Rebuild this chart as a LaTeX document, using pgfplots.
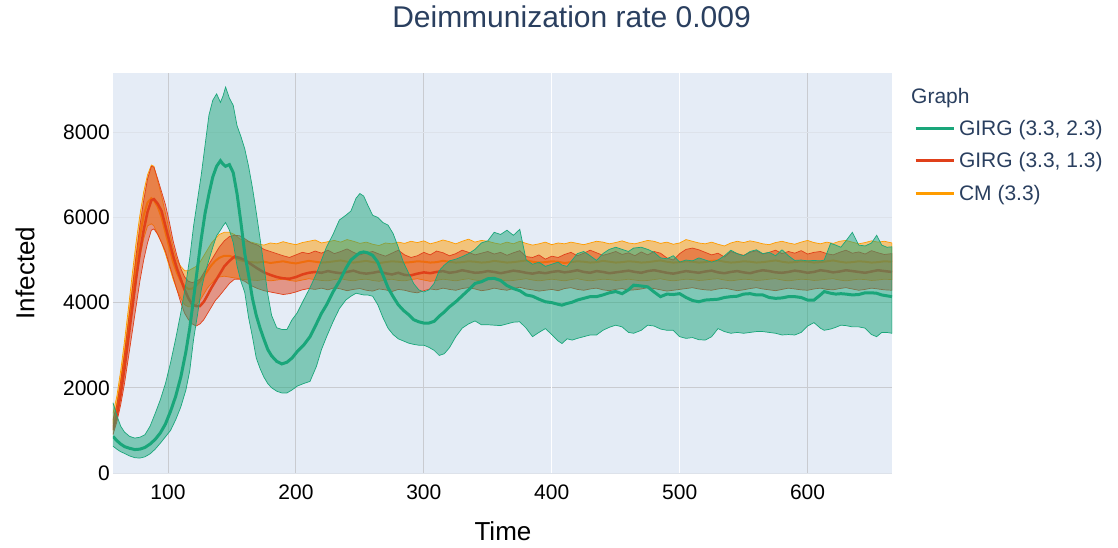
\documentclass[border=0pt]{standalone}
\usepackage{fontspec}
\setmainfont{Liberation Sans}
\usepackage{pgfplots}
\usepackage{pgfplotstable}
\pgfplotsset{compat=1.18}

\definecolor{bgc}{HTML}{E5ECF6}
\definecolor{girgA}{HTML}{1AA67A}
\definecolor{girgB}{HTML}{E0401A}
\definecolor{cmc}{HTML}{FF9C00}
\definecolor{ttl}{HTML}{2A3F5F}
\definecolor{gridg}{HTML}{C9CBD0}
\definecolor{gridl}{HTML}{DDE2EA}

% each band: upper edge left to right, then lower edge right to left

% GIRG (3.3, 2.3)
\pgfplotstableread{
t y
57 1650
60 1350
63 1100
66 960
70 860
74 820
78 840
82 900
86 1100
90 1400
94 1720
98 2100
102 2590
106 3150
110 3760
114 4450
117 5050
120 5800
123 6400
126 7000
129 7700
132 8400
135 8750
138 8900
141 8700
143 8850
145 9060
148 8800
151 8630
154 8150
157 7900
160 7610
163 7200
166 6700
169 6120
172 5500
175 4860
178 4200
181 3700
185 3410
189 3370
193 3370
197 3600
201 3760
206 4060
211 4350
216 4680
220 5000
224 5310
229 5600
234 5940
239 6050
243 6150
247 6450
250 6560
253 6500
256 6300
260 6050
264 6000
268 5880
272 5820
276 5620
280 5300
284 4950
288 4700
292 4450
296 4300
300 4250
304 4300
308 4450
312 4750
316 4880
320 4980
325 5020
330 5080
335 5150
340 5250
345 5400
350 5450
355 5650
360 5600
365 5700
370 5580
375 5720
380 5000
385 4900
390 4950
395 4850
400 4900
405 4950
408 4880
412 4850
416 5000
420 5150
425 5200
430 5100
435 4990
440 5150
445 5250
450 5300
455 5250
460 5200
464 5280
470 5300
475 5250
480 5180
485 5050
490 5030
495 5100
500 4950
505 5000
510 4980
515 5050
520 5000
525 4950
530 5000
535 5100
540 5230
545 5150
550 5100
555 5200
560 5240
565 5150
570 5180
575 5100
580 5240
585 5100
590 4990
595 5000
600 4980
605 4990
610 4980
613 5000
618 5390
622 5350
626 5300
630 5450
635 5650
640 5350
645 5330
650 5400
654 5580
658 5350
662 5300
666 5310
666 3280
662 3300
658 3300
654 3200
650 3250
645 3400
640 3430
635 3430
630 3460
626 3470
622 3420
618 3380
613 3350
610 3400
605 3530
600 3450
595 3300
590 3240
585 3250
580 3240
575 3280
570 3300
565 3320
560 3320
555 3300
550 3280
545 3300
540 3280
535 3320
530 3390
525 3200
520 3120
515 3130
510 3180
505 3160
500 3200
495 3350
490 3350
485 3380
480 3450
475 3470
470 3350
464 3280
460 3300
455 3430
450 3470
445 3420
440 3350
435 3240
430 3240
425 3200
420 3160
416 3120
412 3150
408 3040
405 3100
400 3250
395 3390
390 3300
385 3200
380 3400
375 3550
370 3540
365 3500
360 3460
355 3470
350 3480
345 3480
340 3570
335 3500
330 3400
325 3200
320 2940
316 2800
312 2760
308 2880
304 2950
300 3000
296 3000
292 3020
288 3050
284 3100
280 3150
276 3250
272 3400
268 3650
264 3950
260 4150
256 4180
253 4180
250 4200
247 4220
243 4150
239 4060
234 3860
229 3550
224 3200
220 2900
216 2500
211 2150
206 2100
201 2040
197 1950
193 1880
189 1880
185 1920
181 2000
178 2100
175 2250
172 2450
169 2700
166 3200
163 3650
160 4240
157 4500
154 4860
151 5410
148 5700
145 5880
143 5800
141 5700
138 5570
135 5300
132 5000
129 4700
126 4300
123 3700
120 3140
117 2400
114 1950
110 1550
106 1250
102 1000
98 850
94 700
90 560
86 450
82 380
78 350
74 360
70 400
66 460
63 500
60 560
57 630
}\bandA

\pgfplotstableread{
t y
57 860
60 760
63 680
66 620
70 580
74 550
78 560
82 600
86 680
90 790
94 940
98 1150
102 1450
106 1800
110 2250
114 2850
117 3400
120 4100
123 4800
126 5500
129 6100
132 6550
135 6950
138 7200
141 7330
143 7250
145 7200
148 7240
151 7050
154 6550
157 5880
160 5150
163 4650
166 4100
169 3700
172 3400
175 3140
178 2900
181 2750
185 2620
189 2560
193 2600
197 2700
201 2850
206 3000
211 3200
216 3500
220 3750
224 3950
229 4250
234 4500
239 4800
243 5000
247 5100
250 5170
253 5190
256 5170
260 5110
264 4950
268 4650
272 4350
276 4140
280 3950
284 3820
288 3720
292 3600
296 3550
300 3520
304 3520
308 3560
312 3680
316 3780
320 3900
325 4020
330 4160
335 4300
340 4450
345 4490
350 4560
355 4570
360 4520
365 4400
370 4330
375 4280
380 4180
385 4150
390 4080
395 4020
400 4000
405 3960
408 3940
412 3980
416 4010
420 4060
425 4100
430 4140
435 4140
440 4180
445 4230
450 4260
455 4210
460 4300
464 4410
470 4390
475 4370
480 4250
485 4140
490 4200
495 4190
500 4210
505 4120
510 4050
515 4020
520 4060
525 4070
530 4080
535 4120
540 4140
545 4150
550 4200
555 4210
560 4180
565 4180
570 4120
575 4100
580 4110
585 4140
590 4140
595 4120
600 4060
605 4060
610 4180
613 4260
618 4220
622 4200
626 4210
630 4200
635 4180
640 4190
645 4230
650 4230
654 4220
658 4180
662 4160
666 4140
}\meanA

% GIRG (3.3, 1.3)
\pgfplotstableread{
t y
57 1250
60 1600
63 2150
66 2800
69 3550
72 4300
75 5100
78 5800
81 6400
84 6900
87 7200
89 7180
92 6900
95 6600
98 6300
101 5900
104 5450
107 5100
110 4800
113 4600
116 4500
119 4470
122 4500
125 4550
128 4700
131 4850
134 5000
137 5150
140 5300
144 5450
148 5550
152 5580
156 5570
160 5500
165 5400
170 5350
175 5250
180 5200
185 5150
190 5100
195 5060
200 5120
205 5180
210 5150
215 5210
220 5160
225 5230
230 5150
235 5200
240 5260
245 5180
250 5120
255 5170
260 5200
265 5140
270 5090
275 5160
280 5230
285 5120
290 5060
295 5100
300 5180
305 5120
310 5210
315 5170
320 5100
325 5150
330 5230
335 5180
340 5120
345 5160
350 5200
355 5140
360 5180
365 5110
370 5170
375 5220
380 5080
385 5060
390 5120
395 5020
400 5090
405 5060
410 5130
415 5180
420 5100
425 5160
430 5230
435 5170
440 5110
445 5150
450 5200
455 5130
460 5170
465 5100
470 5190
475 5120
480 5200
485 5160
490 5050
495 5000
500 5150
505 5250
510 5280
515 5240
520 5180
525 5120
530 5160
535 5070
540 5200
545 5150
550 5110
555 5180
560 5220
565 5140
570 5180
575 5230
580 5150
585 5200
590 5160
595 5220
600 5140
605 5180
610 5200
615 5150
620 5120
625 5180
630 5230
635 5160
640 5190
645 5140
650 5220
655 5170
660 5130
666 5150
666 4290
660 4300
655 4320
650 4340
645 4310
640 4290
635 4320
630 4350
625 4330
620 4300
615 4310
610 4340
605 4320
600 4290
595 4300
590 4320
585 4340
580 4310
575 4280
570 4300
565 4320
560 4350
555 4330
550 4300
545 4280
540 4310
535 4340
530 4320
525 4290
520 4300
515 4320
510 4350
505 4330
500 4310
495 4290
490 4270
485 4300
480 4330
475 4350
470 4320
465 4300
460 4290
455 4330
450 4310
445 4280
440 4300
435 4340
430 4320
425 4290
420 4310
415 4350
410 4330
405 4280
400 4310
395 4290
390 4270
385 4300
380 4320
375 4360
370 4330
365 4290
360 4310
355 4340
350 4300
345 4280
340 4320
335 4350
330 4330
325 4290
320 4310
315 4340
310 4300
305 4320
300 4280
295 4230
290 4250
285 4290
280 4310
275 4260
270 4300
265 4320
260 4270
255 4290
250 4330
245 4310
240 4280
235 4320
230 4350
225 4300
220 4340
215 4310
210 4330
205 4300
200 4250
195 4210
190 4190
185 4220
180 4250
175 4280
170 4330
165 4400
160 4500
156 4550
152 4550
148 4450
144 4300
140 4150
137 4050
134 3900
131 3750
128 3600
125 3500
122 3450
119 3500
116 3600
113 3750
110 4000
107 4300
104 4600
101 4900
98 5200
95 5410
92 5600
89 5730
87 5700
84 5400
81 5000
78 4500
75 3900
72 3300
69 2700
66 2100
63 1600
60 1200
57 900
}\bandB

\pgfplotstableread{
t y
57 1020
60 1350
63 1850
66 2450
69 3150
72 3850
75 4550
78 5180
81 5700
84 6130
87 6400
89 6430
92 6320
95 6150
98 5800
101 5450
104 5100
107 4800
110 4550
113 4300
116 4100
119 3950
122 3920
125 3920
128 4020
131 4180
134 4350
137 4500
140 4650
144 4850
148 4980
152 5080
156 5050
160 5000
165 4900
170 4800
175 4710
180 4650
185 4600
190 4570
195 4560
200 4600
205 4660
210 4700
215 4720
220 4700
225 4740
230 4710
235 4690
240 4720
245 4750
250 4700
255 4680
260 4700
265 4730
270 4690
275 4660
280 4700
285 4650
290 4640
295 4680
300 4710
305 4690
310 4720
315 4740
320 4700
325 4720
330 4760
335 4730
340 4700
345 4710
350 4740
355 4720
360 4690
365 4720
370 4750
375 4730
380 4700
385 4680
390 4710
395 4690
400 4720
405 4740
410 4710
415 4730
420 4760
425 4720
430 4700
435 4740
440 4720
445 4690
450 4710
455 4730
460 4750
465 4720
470 4700
475 4740
480 4760
485 4730
490 4700
495 4680
500 4710
505 4740
510 4720
515 4700
520 4730
525 4750
530 4710
535 4690
540 4720
545 4740
550 4710
555 4690
560 4730
565 4760
570 4740
575 4710
580 4700
585 4720
590 4750
595 4730
600 4700
605 4720
610 4760
615 4740
620 4710
625 4730
630 4760
635 4740
640 4720
645 4700
650 4730
655 4760
660 4740
666 4720
}\meanB

% CM (3.3)
\pgfplotstableread{
t y
57 1400
60 1800
63 2400
66 3100
69 3850
72 4650
75 5400
78 6050
81 6600
84 7000
87 7230
89 7200
92 6850
95 6500
98 6100
101 5700
104 5300
107 5000
110 4850
113 4750
116 4750
119 4800
122 4850
125 4950
128 5100
131 5250
134 5400
137 5500
140 5600
144 5650
148 5650
152 5600
156 5500
160 5450
165 5420
170 5380
175 5350
180 5400
185 5380
190 5430
195 5390
200 5360
205 5410
210 5440
215 5470
220 5400
225 5430
230 5460
235 5420
240 5480
245 5440
250 5390
255 5420
260 5370
265 5340
270 5400
275 5380
280 5420
285 5390
290 5440
295 5410
300 5450
305 5380
310 5420
315 5470
320 5430
325 5380
330 5440
335 5490
340 5420
345 5460
350 5440
355 5400
360 5370
365 5420
370 5380
375 5440
380 5390
385 5350
390 5380
395 5420
400 5360
405 5400
410 5380
415 5420
420 5390
425 5360
430 5400
435 5440
440 5420
445 5380
450 5410
455 5450
460 5400
465 5380
470 5420
475 5460
480 5440
485 5390
490 5420
495 5370
500 5400
505 5480
510 5440
515 5400
520 5380
525 5420
530 5370
535 5330
540 5400
545 5440
550 5410
555 5450
560 5420
565 5380
570 5360
575 5410
580 5440
585 5400
590 5370
595 5420
600 5460
605 5410
610 5380
615 5420
620 5390
625 5440
630 5460
635 5420
640 5380
645 5410
650 5450
655 5420
660 5440
666 5400
666 4540
660 4550
655 4530
650 4520
645 4540
640 4550
635 4530
630 4510
625 4530
620 4560
615 4550
610 4530
605 4520
600 4540
595 4550
590 4530
585 4510
580 4530
575 4560
570 4550
565 4530
560 4520
555 4540
550 4550
545 4530
540 4510
535 4530
530 4560
525 4550
520 4530
515 4520
510 4540
505 4550
500 4530
495 4510
490 4530
485 4560
480 4540
475 4520
470 4510
465 4530
460 4550
455 4530
450 4520
445 4540
440 4550
435 4530
430 4510
425 4530
420 4560
415 4540
410 4510
405 4530
400 4550
395 4530
390 4510
385 4530
380 4560
375 4540
370 4520
365 4510
360 4530
355 4560
350 4540
345 4510
340 4530
335 4560
330 4540
325 4510
320 4530
315 4550
310 4520
305 4500
300 4530
295 4560
290 4540
285 4510
280 4520
275 4550
270 4530
265 4500
260 4520
255 4550
250 4540
245 4510
240 4530
235 4560
230 4540
225 4510
220 4520
215 4540
210 4560
205 4530
200 4500
195 4520
190 4550
185 4530
180 4510
175 4540
170 4520
165 4530
160 4540
156 4560
152 4580
148 4600
144 4620
140 4600
137 4550
134 4450
131 4350
128 4200
125 4050
122 3950
119 3900
116 3900
113 3950
110 4100
107 4300
104 4550
101 4850
98 5150
95 5400
92 5600
89 5800
87 5850
84 5800
81 5500
78 5050
75 4450
72 3800
69 3100
66 2450
63 1850
60 1350
57 1000
}\bandC

\pgfplotstableread{
t y
57 1150
60 1550
63 2100
66 2750
69 3450
72 4200
75 4900
78 5550
81 6050
84 6350
87 6450
89 6400
92 6250
95 6000
98 5650
101 5300
104 4950
107 4700
110 4500
113 4380
116 4320
119 4330
122 4400
125 4500
128 4620
131 4750
134 4880
137 4980
140 5050
144 5100
148 5100
152 5050
156 5000
160 4970
165 4950
170 4940
175 4960
180 4930
185 4950
190 4970
195 4940
200 4920
205 4950
210 4980
215 4960
220 4940
225 4950
230 4970
235 4990
240 4960
245 4940
250 4960
255 4980
260 4950
265 4930
270 4950
275 4970
280 4960
285 4940
290 4950
295 4970
300 4960
305 4940
310 4950
315 4980
320 4960
325 4940
330 4950
335 4970
340 4960
345 4940
350 4950
355 4980
360 4960
365 4940
370 4950
375 4970
380 4990
385 4960
390 4940
395 4950
400 4970
405 4960
410 4930
415 4950
420 4970
425 4960
430 4940
435 4950
440 4980
445 4960
450 4940
455 4950
460 4970
465 4960
470 4940
475 4950
480 4970
485 4990
490 4960
495 4940
500 4950
505 4970
510 4960
515 4940
520 4950
525 4980
530 4990
535 4960
540 4940
545 4950
550 4970
555 4960
560 4940
565 4950
570 4970
575 4990
580 4960
585 4940
590 4950
595 4970
600 4960
605 4940
610 4950
615 4970
620 4990
625 4960
630 4940
635 4950
640 4970
645 4960
650 4940
655 4950
660 4970
666 4960
}\meanC

\begin{document}
\begin{tikzpicture}
\path[use as bounding box] (-113pt,-74pt) rectangle (1005pt,473pt);
\begin{axis}[
    at={(0pt,0pt)}, anchor=south west,
    scale only axis, width=779pt, height=400pt,
    xmin=57, xmax=666, ymin=0, ymax=9390,
    clip mode=individual,
    axis background/.style={fill=bgc},
    axis line style={draw=none},
    major tick length=0pt,
    xtick={100,200,300,600},
    extra x ticks={400,500},
    extra x tick style={grid style={draw=white!95!bgc, line width=1pt}},
    ytick={2000,4000},
    extra y ticks={0,6000,8000},
    extra y tick style={grid style={draw=gridl, line width=1pt}},
    grid=major,
    grid style={draw=gridg, line width=1pt},
    /pgf/number format/1000 sep={},
    /pgf/number format/assume math mode=true,
    scaled y ticks=false,
    ticklabel style={font=\fontsize{21}{25}\selectfont, text=black},
    xticklabel style={anchor=north, inner sep=0pt, yshift=-12pt},
    yticklabel style={anchor=east, inner sep=0pt, xshift=-3pt},
    title={Deimmunization rate 0.009},
    title style={at={(axis description cs:0.5886,1.125)}, anchor=center,
        font=\fontsize{30}{36}\selectfont, text=ttl, inner sep=0pt},
    xlabel={Time},
    ylabel={Infected},
    every axis x label/.style={at={(axis description cs:0.5006,-0.145)},
        anchor=center, font=\fontsize{26}{30}\selectfont, inner sep=0pt},
    every axis y label/.style={at={(axis description cs:-0.113,0.5)},
        rotate=90, anchor=center, font=\fontsize{26}{30}\selectfont, inner sep=0pt},
    legend style={at={(axis description cs:1.0283,0.8825)}, anchor=north west,
        draw=none, fill=none, inner sep=0pt, outer sep=0pt,
        font=\fontsize{21}{25}\selectfont, text=ttl,
        row sep=12.5pt, column sep=4pt,
        nodes={inner sep=0pt, text height=15pt, text depth=5pt}},
    legend cell align=left,
    legend image code/.code={\draw[#1, line width=3pt] (0pt,2pt) -- (38pt,2pt);},
]
% CM (3.3)
\addplot[fill=cmc, fill opacity=0.5, draw=cmc, line width=0.7pt, forget plot] table[x=t, y=y] {\bandC};
\addplot[cmc, line width=2pt, forget plot] table[x=t, y=y] {\meanC};
% GIRG (3.3, 1.3)
\addplot[fill=girgB, fill opacity=0.5, draw=girgB, line width=0.7pt, forget plot] table[x=t, y=y] {\bandB};
\addplot[girgB, line width=2.5pt, forget plot] table[x=t, y=y] {\meanB};
% GIRG (3.3, 2.3)
\addplot[fill=girgA, fill opacity=0.5, draw=girgA, line width=0.7pt, forget plot] table[x=t, y=y] {\bandA};
\addplot[girgA, line width=3pt, forget plot] table[x=t, y=y] {\meanA};

\addlegendimage{girgA}
\addlegendentry{GIRG (3.3, 2.3)}
\addlegendimage{girgB}
\addlegendentry{GIRG (3.3, 1.3)}
\addlegendimage{cmc}
\addlegendentry{CM (3.3)}

\node[anchor=base west, inner sep=0pt, font=\fontsize{21}{25}\selectfont, text=ttl]
    at (axis description cs:1.0244,0.924) {Graph};
\end{axis}
\end{tikzpicture}
\end{document}
